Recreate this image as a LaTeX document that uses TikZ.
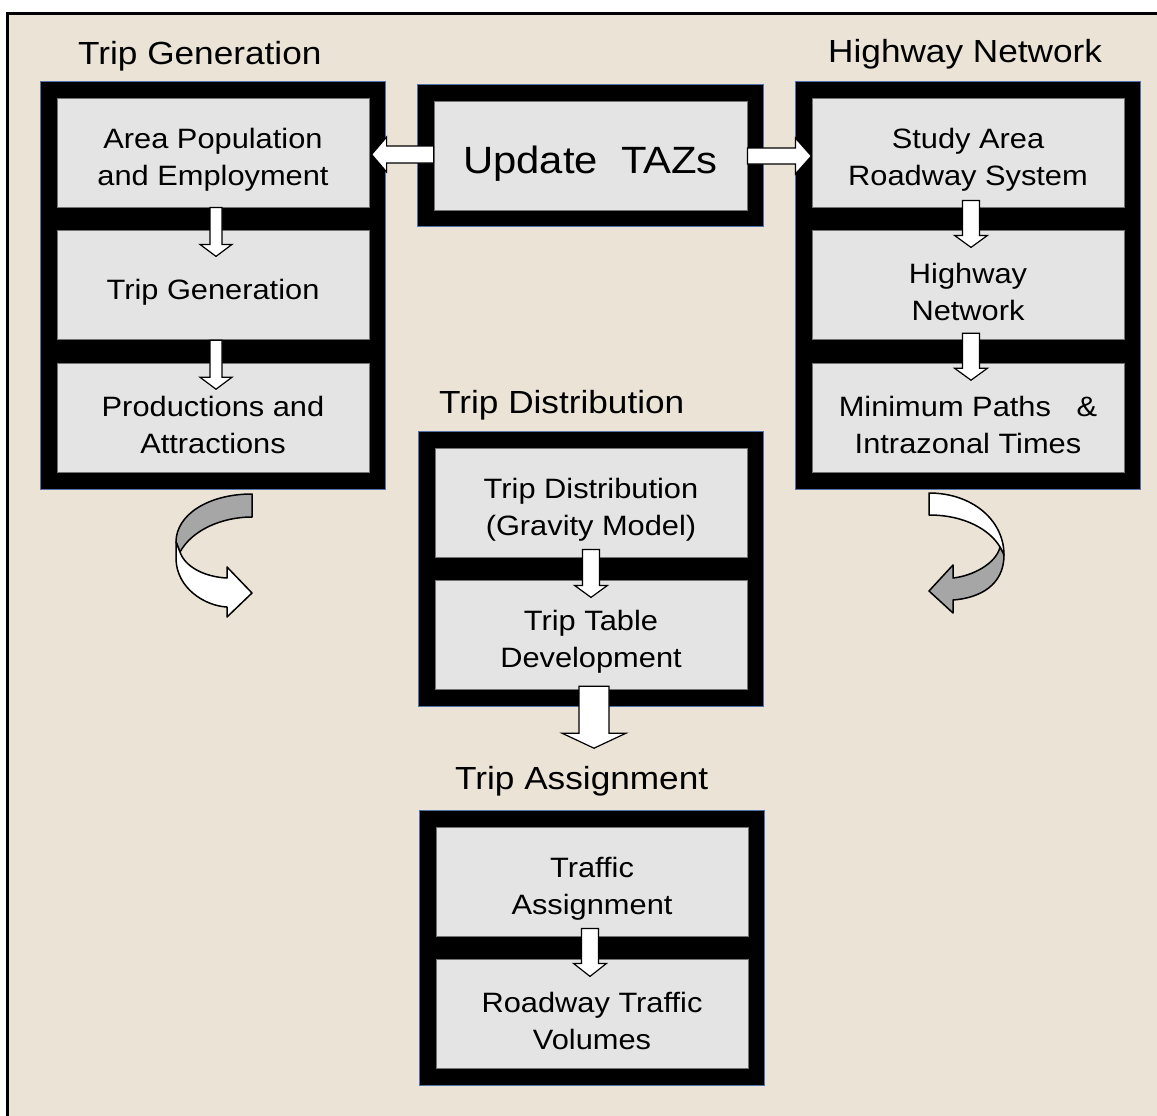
\documentclass[tikz,border=0pt]{standalone}
\usepackage{fontspec}
\setmainfont{Liberation Sans}[FakeStretch=1.1]
\usetikzlibrary{positioning,fit,calc}
\definecolor{paper}{RGB}{235,228,214}
\definecolor{boxgray}{RGB}{228,228,228}
\definecolor{framerim}{RGB}{84,114,170}
\definecolor{foldgray}{RGB}{166,166,166}
\pgfdeclarelayer{backdrop}
\pgfdeclarelayer{frames}
\pgfsetlayers{backdrop,frames,main}
\newcommand{\tallstrut}{\rule{0pt}{34pt}}
\tikzset{
  stagebox/.style={draw=black!55, line width=0.8pt, fill=boxgray, align=center,
    font=\fontsize{28}{37}\selectfont, minimum width=312pt, minimum height=109pt, inner sep=0pt},
  stageframe/.style={draw=framerim, line width=1pt, fill=black, inner sep=16.5pt},
  stagetitle/.style={anchor=base west, inner sep=0pt, font=\fontsize{32}{38}\selectfont},
  blockbody/.style={draw=black, line width=1.2pt, fill=white, line join=miter},
  turnbody/.style={draw=black, line width=1.5pt, line join=round}
}
% start, angle, length, head length, shaft width, head width
\newcommand{\stagearrow}[6]{%
  \draw[blockbody, shift={(#1)}, rotate=#2] (0,-#5/2) -- (#3-#4,-#5/2) -- (#3-#4,-#6/2)
    -- (#3,0) -- (#3-#4,#6/2) -- (#3-#4,#5/2) -- (0,#5/2) -- cycle;}

\begin{document}
\begin{tikzpicture}[x=1pt, y=-1pt, node distance=23pt]
  \useasboundingbox (0,0) rectangle (1157,1116);
  \begin{pgfonlayer}{backdrop}
    \fill[white] (0,0) rectangle (1157,1116);
    \fill[paper] (6,12) rectangle (1157,1116);
    \draw[line width=3pt] (7.5,1116) -- (7.5,13.5) -- (1157,13.5);
  \end{pgfonlayer}

  % trip generation
  \node[stagebox] (popemp) at (213,152.5) {\tallstrut Area Population\\and Employment};
  \node[stagebox, below=of popemp] (tripgen) {\tallstrut Trip Generation};
  \node[stagebox, below=of tripgen] (prodattr) {\tallstrut Productions and\\Attractions};
  % highway network
  \node[stagebox] (studyarea) at (968,152.5) {\tallstrut Study Area\\Roadway System};
  \node[stagebox, below=of studyarea] (hwynet) {\tallstrut Highway\\Network};
  \node[stagebox, below=of hwynet] (minpaths) {\tallstrut Minimum Paths\ \ \ \&\\Intrazonal Times};
  % zones
  \node[stagebox, minimum width=313pt, font=\fontsize{38}{44}\selectfont] (taz) at (590.5,155.5)
    {\rule{0pt}{44pt}Update\ \ TAZs};
  % trip distribution
  \node[stagebox] (gravity) at (591,502.5) {\tallstrut Trip Distribution\\(Gravity Model)};
  \node[stagebox, below=of gravity] (triptable) {\tallstrut Trip Table\\Development};
  % trip assignment
  \node[stagebox] (trafassign) at (592,881.5) {\tallstrut Traffic\\Assignment};
  \node[stagebox, below=of trafassign] (roadvol) {\tallstrut Roadway Traffic\\Volumes};

  \begin{pgfonlayer}{frames}
    \node[stageframe, fit=(popemp)(prodattr)] (genframe) {};
    \node[stageframe, fit=(studyarea)(minpaths)] (netframe) {};
    \node[stageframe, fit=(taz)] (tazframe) {};
    \node[stageframe, fit=(gravity)(triptable)] (distframe) {};
    \node[stageframe, fit=(trafassign)(roadvol)] (assignframe) {};
  \end{pgfonlayer}

  \node[stagetitle] (gentitle) at (78,65) {Trip Generation};
  \node[stagetitle] (nettitle) at (828,63) {Highway Network};
  \node[stagetitle] (disttitle) at (439,413) {Trip Distribution};
  \node[stagetitle] (assigntitle) at (455,789) {Trip Assignment};

  % block arrows
  \stagearrow{$(taz.west)+(0,-1)$}{180}{62}{15}{17}{35}
  \stagearrow{$(taz.east)+(0,0.5)$}{0}{64}{16}{16}{36}
  \stagearrow{$(popemp.south)+(3,0)$}{-90}{49}{12}{12}{32}
  \stagearrow{$(tripgen.south)+(3,0)$}{-90}{49}{12}{12}{32}
  \stagearrow{$(studyarea.south)+(3,-7)$}{-90}{47}{12}{17}{33}
  \stagearrow{$(hwynet.south)+(3,-7)$}{-90}{47}{12}{17}{33}
  \stagearrow{$(gravity.south)+(0,-8)$}{-90}{48}{12}{17}{33}
  \stagearrow{$(trafassign.south)+(-2,-8)$}{-90}{48}{13}{17}{33}
  \stagearrow{$(triptable.south)+(3,-4)$}{-90}{62}{15}{30}{64}

  % turning arrows
  \draw[turnbody, fill=foldgray] (252,494) .. controls (208,494) and (176,515) .. (176,542)
    -- (180,552) .. controls (192,530) and (222,517) .. (252,517) -- cycle;
  \draw[turnbody, fill=white] (176,542) -- (176,558) .. controls (176,588) and (205,606) .. (227,607)
    -- (227,617) -- (252,593) -- (227,567) -- (227,578) .. controls (205,577) and (185,567) .. (180,552) -- cycle;
  \draw[turnbody, fill=white] (929,493) .. controls (972,493) and (1004,520) .. (1004,555)
    -- (1000,547) .. controls (990,530) and (965,515) .. (929,515) -- cycle;
  \draw[turnbody, fill=foldgray] (1000,547) -- (1004,555) .. controls (1004,585) and (980,598) .. (953,600)
    -- (953,613) -- (929,591) -- (953,565) -- (953,578) .. controls (972,576) and (996,564) .. (1000,547) -- cycle;
\end{tikzpicture}
\end{document}
